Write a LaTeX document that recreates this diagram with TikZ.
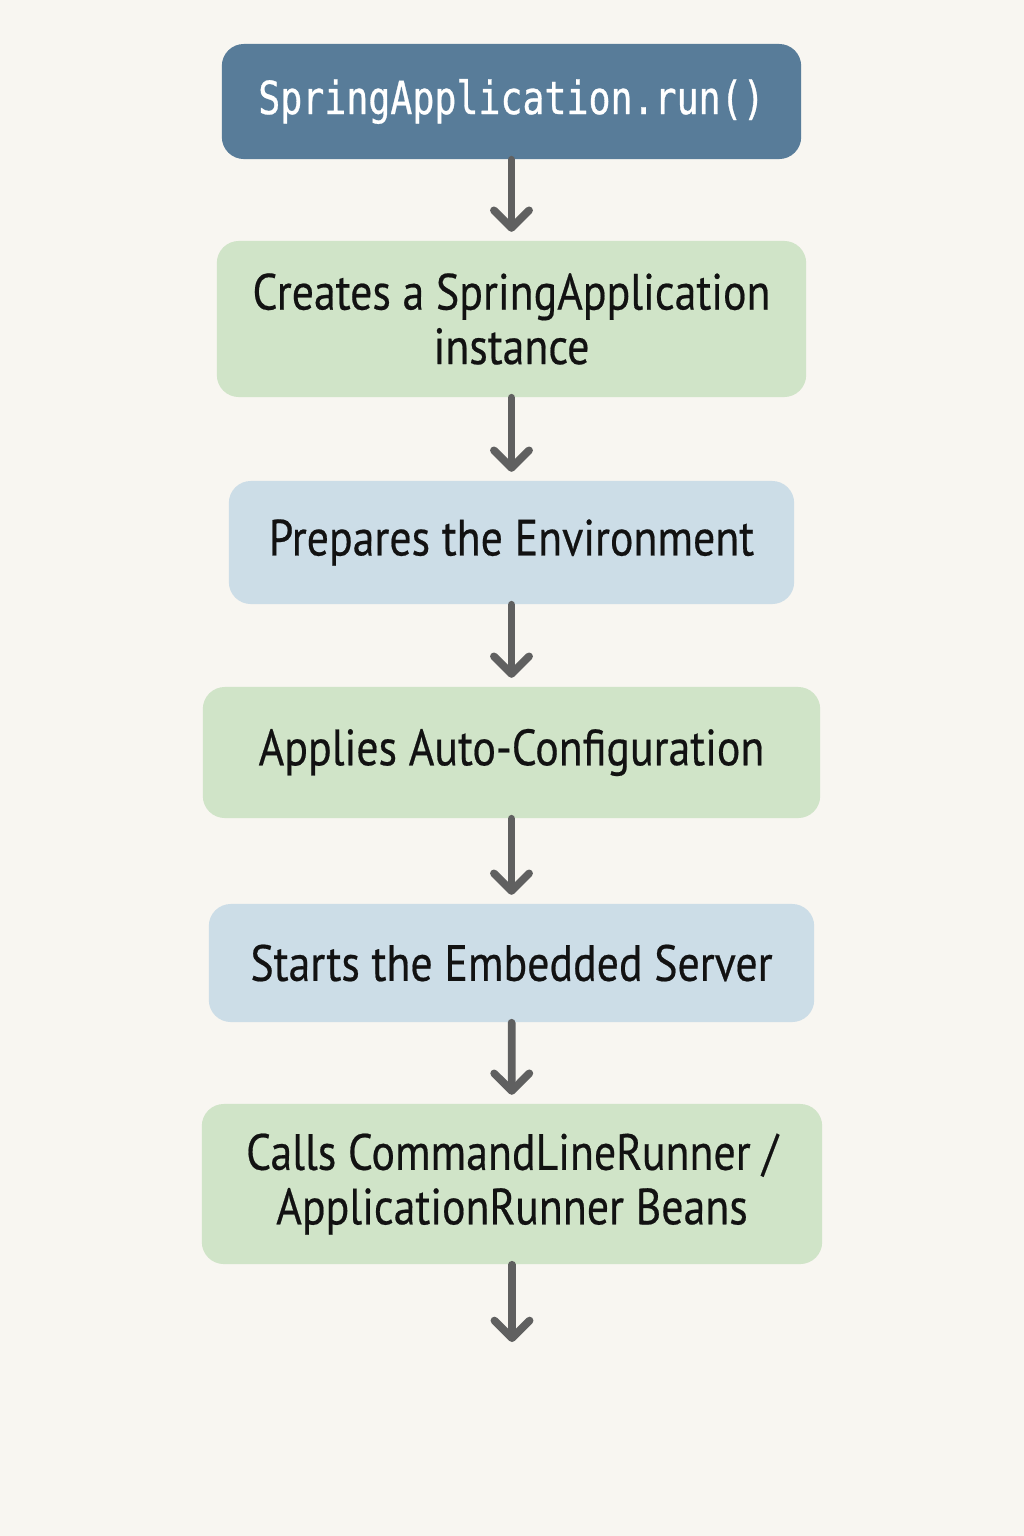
\documentclass[tikz,border=0pt]{standalone}
\usepackage{fontspec}
\setmainfont{PT Sans}[FakeStretch=0.86, FakeBold=0.4]
\newfontfamily\codefont{DejaVu Sans Mono}[FakeStretch=0.8, FakeBold=0.6]
\usepackage{tikz}
\usetikzlibrary{arrows.meta}
\definecolor{bgpaper}{HTML}{F8F6F1}
\definecolor{runblue}{HTML}{587C99}
\definecolor{stepgreen}{HTML}{D0E4C8}
\definecolor{stepblue}{HTML}{CCDDE7}
\definecolor{flowgray}{HTML}{606060}
\tikzstyle{flow}=[x=0.01cm, y=-0.01cm]
\tikzstyle{box}=[rounded corners=0.22cm, inner sep=0pt, align=center, text=black!93, font=\fontsize{14.5}{15.5}\selectfont]
\tikzstyle{start}=[box, fill=runblue, text=white, font=\codefont\fontsize{13}{15}\selectfont]
\tikzstyle{gbox}=[box, fill=stepgreen]
\tikzstyle{bbox}=[box, fill=stepblue]
\tikzstyle{edge}=[draw=flowgray, line width=2.2pt, line cap=round, shorten >=2.4pt, -{Straight Barb[length=5pt, width=10pt, line width=2.2pt, round]}]

\begin{document}
\begin{tikzpicture}[flow]
	\fill[bgpaper] (0,0) rectangle (1024,1536);
	\useasboundingbox (0,0) rectangle (1024,1536);
	\draw (511.5,101.5) node[start, minimum width=5.79cm, minimum height=1.15cm] (run) {SpringApplication.run()};
	\draw (511.5,319) node[gbox, minimum width=5.89cm, minimum height=1.56cm] (create) {Creates a SpringApplication\\instance};
	\draw (511.5,542.5) node[bbox, minimum width=5.65cm, minimum height=1.23cm] (env) {Prepares the Environment};
	\draw (511.5,752.5) node[gbox, minimum width=6.17cm, minimum height=1.31cm] (auto) {Applies Auto-Configuration};
	\draw (511.5,963) node[bbox, minimum width=6.05cm, minimum height=1.18cm] (server) {Starts the Embedded Server};
	\draw (512,1184) node[gbox, minimum width=6.20cm, minimum height=1.60cm] (calls) {Calls CommandLineRunner /\\ApplicationRunner Beans};
	\coordinate (end) at (512,1342);
	\draw[edge] (run) -- (create);
	\draw[edge] (create) -- (env);
	\draw[edge] (env) -- (auto);
	\draw[edge] (auto) -- (server);
	\draw[edge] (server) -- (calls);
	\draw[edge, shorten >=0pt] (calls) -- (end);
\end{tikzpicture}
\end{document}
